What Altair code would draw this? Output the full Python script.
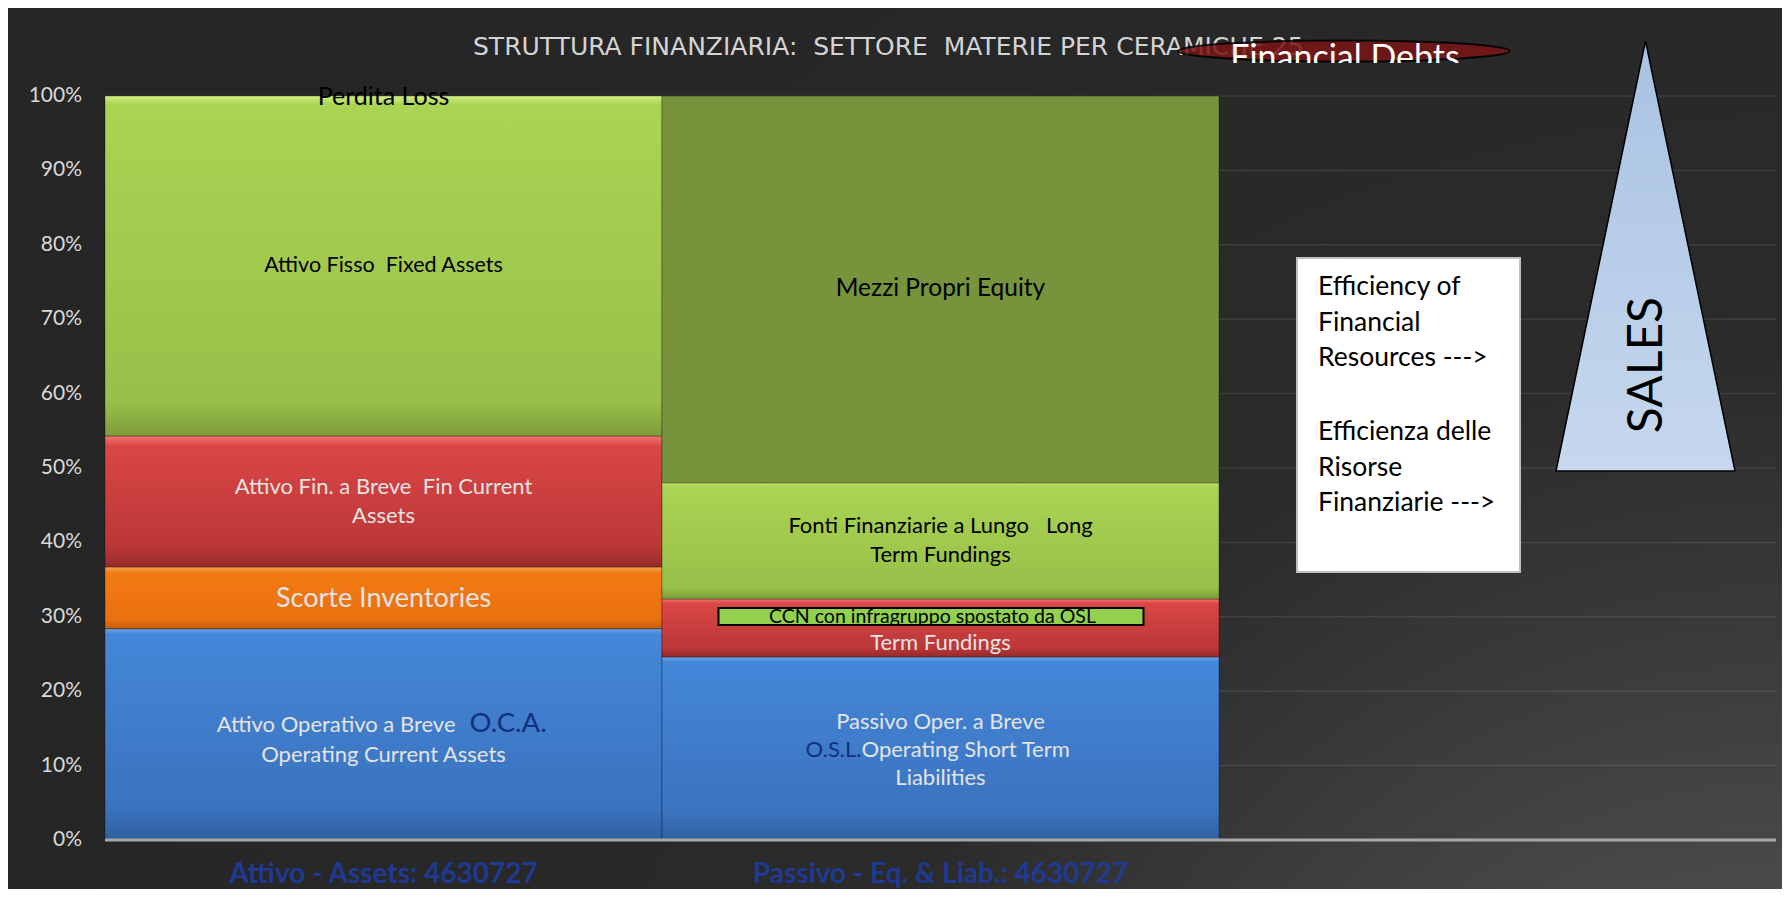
import altair as alt
import pandas as pd

# ---------------- data ----------------
categories = ["Attivo - Assets: 4630727", "Passivo - Eq. & Liab.: 4630727", " "]

attivo_items = ["Attivo Operativo a Breve", "Scorte", "Attivo Fin. a Breve", "Attivo Fisso", "Perdita"]
attivo_pct = [28.4, 8.3, 17.6, 45.7, 0.0]

passivo_items = ["Passivo Oper. a Breve", "Fonti Fin. a Breve", "Fonti Fin. a Lungo", "Mezzi Propri"]
passivo_pct = [24.6, 7.8, 15.6, 52.0]

y_ticks = [0, 10, 20, 30, 40, 50, 60, 70, 80, 90, 100]
y_tick_labels = ["0%", "10%", "20%", "30%", "40%", "50%", "60%", "70%", "80%", "90%", "100%"]

title_text = "STRUTTURA FINANZIARIA:  SETTORE  MATERIE PER CERAMICHE 25"
bubble_text = "Financial Debts"
box_lines_en = ["Efficiency of", "Financial", "Resources --->"]
box_lines_it = ["Efficienza delle", "Risorse", "Finanziarie --->"]
arrow_text = "SALES"

# (bar index, segment, text)
seg_labels = [
    (0, "Attivo Operativo a Breve", "Attivo Operativo a Breve"),
    (0, "Attivo Operativo a Breve", "O.C.A."),
    (0, "Attivo Operativo a Breve", "Operating Current Assets"),
    (0, "Scorte", "Scorte Inventories"),
    (0, "Attivo Fin. a Breve", "Attivo Fin. a Breve  Fin Current\nAssets"),
    (0, "Attivo Fisso", "Attivo Fisso  Fixed Assets"),
    (0, "Perdita", "Perdita Loss"),
    (1, "Passivo Oper. a Breve", "Passivo Oper. a Breve"),
    (1, "Passivo Oper. a Breve", "O.S.L."),
    (1, "Passivo Oper. a Breve", "Operating Short Term"),
    (1, "Passivo Oper. a Breve", "Liabilities"),
    (1, "Fonti Fin. a Breve", "Term Fundings"),
    (1, "Fonti Fin. a Lungo", "Fonti Finanziarie a Lungo   Long\nTerm Fundings"),
    (1, "Mezzi Propri", "Mezzi Propri Equity"),
]
ccn_label = (1, "Fonti Fin. a Breve", "CCN con infragruppo spostato da OSL")

# ---------------- layout / style ----------------
W, H = 1671, 744
PAD = {"left": 97, "top": 88, "right": 6, "bottom": 49}
FONT = "Lato"
LIGHT = "#e4e4e4"
NAVY = "#12307f"


def keep_spaces(s):
    # keep the double spaces of the original (SVG collapses runs of spaces)
    return s.replace("  ", " \u00a0")


def lin(stops):
    return {"gradient": "linear", "x1": 0, "y1": 0, "x2": 0, "y2": 1,
            "stops": [{"offset": o, "color": c} for o, c in stops]}


blue = lin([(0, "#6ea8ee"), (0.025, "#4487d8"), (0.85, "#3b73bf"), (1, "#2f5f9e")])
orange = lin([(0, "#fba24e"), (0.1, "#f27a12"), (0.85, "#ea7010"), (1, "#c65e0c")])
red = lin([(0, "#f27474"), (0.08, "#da4646"), (0.85, "#bb3737"), (1, "#962a2a")])
green = lin([(0, "#d4ee86"), (0.025, "#aad453"), (0.9, "#98c049"), (1, "#7c9c39")])
fills = {
    "Attivo Operativo a Breve": blue,
    "Scorte": orange,
    "Attivo Fin. a Breve": red,
    "Attivo Fisso": green,
    "Passivo Oper. a Breve": blue,
    "Fonti Fin. a Breve": red,
    "Fonti Fin. a Lungo": green,
    "Mezzi Propri": "#77933c",
}

label_styles = {
    "Attivo Operativo a Breve": dict(fontSize=22, color=LIGHT, align="right", dx=72, dy=-9),
    "O.C.A.": dict(fontSize=27.5, color=NAVY, align="left", dx=86, dy=-10),
    "Operating Current Assets": dict(fontSize=22, color=LIGHT, dy=21),
    "Scorte Inventories": dict(fontSize=27, color=LIGHT, dy=1),
    "Attivo Fin. a Breve  Fin Current\nAssets": dict(fontSize=22, color=LIGHT, lineHeight=29, dy=-14.5),
    "Attivo Fisso  Fixed Assets": dict(fontSize=21.5, color="black"),
    "Perdita Loss": dict(fontSize=25, color="black", dy=1),
    "Passivo Oper. a Breve": dict(fontSize=22, color=LIGHT, dy=-26),
    "O.S.L.": dict(fontSize=22, color=NAVY, align="right", dx=-79, dy=2),
    "Operating Short Term": dict(fontSize=22, color=LIGHT, align="left", dx=-79, dy=2),
    "Liabilities": dict(fontSize=22, color=LIGHT, dy=30),
    "Term Fundings": dict(fontSize=22, color=LIGHT, dy=15),
    "Fonti Finanziarie a Lungo   Long\nTerm Fundings": dict(fontSize=22, color="black", lineHeight=29, dy=-14.5),
    "Mezzi Propri Equity": dict(fontSize=24.5, color="black"),
}

# ---------------- tables ----------------
rows = []
for ci, items, vals in [(0, attivo_items, attivo_pct), (1, passivo_items, passivo_pct)]:
    cum = 0.0
    for it, v in zip(items, vals):
        rows.append({"cat": categories[ci], "item": it, "y0": cum, "y1": cum + v, "mid": cum + v / 2})
        cum += v
seg = pd.DataFrame(rows)

xscale = alt.Scale(domain=categories, paddingInner=0, paddingOuter=0)
yscale = alt.Scale(domain=[0, 100], nice=False)


def X():
    return alt.X("cat:N", scale=xscale, axis=None)


def Y(field):
    return alt.Y(field, scale=yscale, axis=None)


one = pd.DataFrame({"k": [0]})
layers = []

# background
bg = {"gradient": "radial", "x1": 1, "y1": 1, "r1": 0, "x2": 1, "y2": 1, "r2": 1,
      "stops": [{"offset": 0, "color": "#585858"}, {"offset": 0.25, "color": "#4a4a4a"},
                {"offset": 0.42, "color": "#383838"}, {"offset": 0.55, "color": "#2b2b2b"},
                {"offset": 1, "color": "#262626"}]}
layers.append(alt.Chart(one).mark_rect(fill=bg).encode(
    x=alt.value(-PAD["left"]), x2=alt.value(W + PAD["right"]),
    y=alt.value(-PAD["top"]), y2=alt.value(H + PAD["bottom"])))

# grid lines
layers.append(alt.Chart(pd.DataFrame({"v": y_ticks[1:]})).mark_rule(
    color="#ffffff", opacity=0.09, strokeWidth=1.5).encode(
    y=Y("v:Q"), x=alt.value(0), x2=alt.value(W)))

# y tick labels
layers.append(alt.Chart(pd.DataFrame({"v": y_ticks, "lab": y_tick_labels})).mark_text(
    font=FONT, fontSize=21, color="#d9d9d9", align="right", baseline="middle").encode(
    y=Y("v:Q"), x=alt.value(-23), text="lab:N"))

# bars
for item, fill in fills.items():
    d = seg[seg["item"] == item]
    layers.append(alt.Chart(d).mark_bar(fill=fill, stroke="#000000", strokeOpacity=0.3,
                                        strokeWidth=1).encode(
        x=X(), y=Y("y0:Q"), y2="y1:Q"))

# base line
layers.append(alt.Chart(pd.DataFrame({"v": [0]})).mark_rule(
    color="#a8a8a8", strokeWidth=3).encode(
    y=Y("v:Q"), x=alt.value(0), x2=alt.value(W)))

# x category labels
layers.append(alt.Chart(pd.DataFrame({"cat": categories})).mark_text(
    font=FONT, fontSize=28, fontWeight="bold", color="#1f3a93", baseline="middle").encode(
    x=X(), y=alt.value(H + 35), text="cat:N"))

# segment labels
for ci, item, txt in seg_labels:
    r = seg[(seg["cat"] == categories[ci]) & (seg["item"] == item)].iloc[0]
    st = dict(font=FONT, baseline="middle", align="center", lineBreak="\n")
    st.update(label_styles[txt])
    layers.append(alt.Chart(pd.DataFrame([{"cat": r["cat"], "mid": r["mid"], "t": keep_spaces(txt)}])).mark_text(**st).encode(
        x=X(), y=Y("mid:Q"), text="t:N"))

# CCN green box + text
ci, item, txt = ccn_label
r = seg[(seg["cat"] == categories[ci]) & (seg["item"] == item)].iloc[0]
ccn_df = pd.DataFrame([{"cat": r["cat"], "mid": r["mid"], "t": txt}])
layers.append(alt.Chart(ccn_df).mark_point(
    shape="M -1 -0.04 L 1 -0.04 L 1 0.04 L -1 0.04 Z", size=425 ** 2, filled=True,
    fill="#92d050", stroke="black", strokeWidth=2, opacity=1, xOffset=-9.5, yOffset=-11.5).encode(
    x=X(), y=Y("mid:Q")))
layers.append(alt.Chart(ccn_df).mark_text(font=FONT, fontSize=19.5, color="black", dx=-8, dy=-11,
                                          baseline="middle").encode(
    x=X(), y=Y("mid:Q"), text="t:N"))

# Financial Debts bubble + title
layers.append(alt.Chart(one).mark_text(font="DejaVu Sans", fontSize=25, color="#d4d4d4",
                                       align="left", baseline="middle").encode(
    x=alt.value(368), y=alt.value(-49), text=alt.value(keep_spaces(title_text))))
layers.append(alt.Chart(one).mark_point(
    shape="M -1 0 A 1 0.0633 0 1 1 1 0 A 1 0.0633 0 1 1 -1 0 Z", size=332 ** 2, filled=True,
    fill="#7a1515", stroke="black", strokeWidth=2, opacity=0.85).encode(
    x=alt.value(1239), y=alt.value(-45)))
layers.append(alt.Chart(one).mark_text(font=FONT, fontSize=34, color="white",
                                       align="center", baseline="alphabetic").encode(
    x=alt.value(1240), y=alt.value(-27), text=alt.value(bubble_text)))
layers.append(alt.Chart(one).mark_rect(fill="#292929").encode(
    x=alt.value(1110), x2=alt.value(1380), y=alt.value(-33), y2=alt.value(-18)))

# efficiency box
layers.append(alt.Chart(one).mark_rect(fill="white", stroke="#bfbfbf", strokeWidth=2).encode(
    x=alt.value(1192), x2=alt.value(1415), y=alt.value(162), y2=alt.value(476)))
for lines, ytop in [(box_lines_en, 191), (box_lines_it, 336)]:
    layers.append(alt.Chart(one).mark_text(font=FONT, fontSize=26.5, color="black", align="left",
                                           baseline="middle", lineBreak="\n", lineHeight=35.5).encode(
        x=alt.value(1213), y=alt.value(ytop), text=alt.value("\n".join(lines))))

# SALES triangle
tri = lin([(0, "#a9c2e2"), (1, "#c6d8ee")])
layers.append(alt.Chart(one).mark_point(
    shape="M 0 -1 L 0.4163 1 L -0.4163 1 Z", size=430 ** 2, filled=True, fill=tri,
    stroke="black", strokeWidth=1.5, opacity=1).encode(
    x=alt.value(1540.5), y=alt.value(160)))
layers.append(alt.Chart(one).mark_text(font=FONT, fontSize=48, color="black", angle=270,
                                       align="center", baseline="middle").encode(
    x=alt.value(1543), y=alt.value(269), text=alt.value(arrow_text)))

chart = alt.layer(*layers).properties(
    width=W, height=H, padding=PAD, autosize=alt.AutoSizeParams(type="none"),
    background="#262626").configure_view(stroke=None)

chart.save("out.html", embed_options={"renderer": "svg", "actions": False})
